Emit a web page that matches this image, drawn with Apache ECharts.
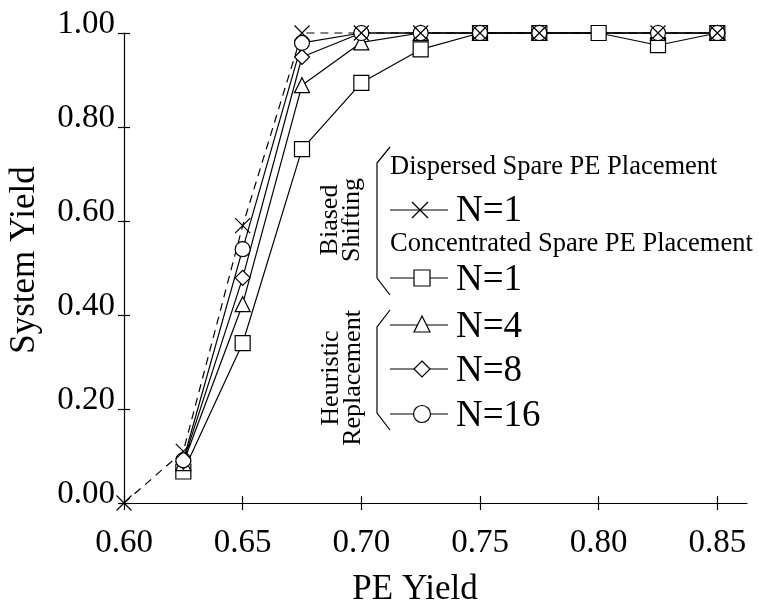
<!DOCTYPE html>
<html>
<head>
<meta charset="utf-8">
<script src="https://cdn.jsdelivr.net/npm/echarts@6/dist/echarts.min.js"></script>
<style>
  html, body { margin: 0; padding: 0; background: #fff; }
  #chart { width: 759px; height: 608px; }
</style>
</head>
<body>
<div id="chart"></div>
<script>
// PE yield sample points
const peYieldDispersed = [0.60, 0.625, 0.65, 0.675, 0.70, 0.725, 0.75, 0.775, 0.825, 0.85];
const peYieldConcentrated = [0.625, 0.65, 0.675, 0.70, 0.725, 0.75, 0.775, 0.80, 0.825, 0.85];
const peYieldHeuristic = [0.625, 0.65, 0.675, 0.70, 0.725, 0.75, 0.775, 0.825, 0.85];

// System yield per configuration
const biasedDispersedN1 = [0.00, 0.11, 0.59, 1.00, 1.00, 1.00, 1.00, 1.00, 1.00, 1.00];
const biasedConcentratedN1 = [0.067, 0.34, 0.753, 0.894, 0.965, 1.00, 1.00, 1.00, 0.974, 1.00];
const heuristicN4 = [0.085, 0.423, 0.889, 0.98, 1.00, 1.00, 1.00, 1.00, 1.00];
const heuristicN8 = [0.088, 0.479, 0.949, 1.00, 1.00, 1.00, 1.00, 1.00, 1.00];
const heuristicN16 = [0.091, 0.54, 0.979, 1.00, 1.00, 1.00, 1.00, 1.00, 1.00];

// Axis ticks
const xTicks = [0.60, 0.65, 0.70, 0.75, 0.80, 0.85];
const yTicks = [0.00, 0.20, 0.40, 0.60, 0.80, 1.00];

const FONT = '"Liberation Serif", "Times New Roman", serif';
const crossPath = 'path://M0,0L10,10M10,0L0,10';

function pairs(xs, ys) { return xs.map((x, i) => [x, ys[i]]); }

function lineSeries(name, xs, ys, symbol, size, dashed) {
  return {
    name: name,
    type: 'line',
    data: pairs(xs, ys),
    symbol: symbol,
    symbolSize: size,
    showAllSymbol: true,
    clip: false,
    animation: false,
    lineStyle: { color: '#000', width: 1.2, type: dashed ? [8, 6] : 'solid' },
    itemStyle: {
      color: symbol === crossPath ? 'rgba(0,0,0,0)' : '#fff',
      borderColor: '#000',
      borderWidth: 1.2
    },
    emphasis: { disabled: true }
  };
}

const chart = echarts.init(document.getElementById('chart'), null, { renderer: 'canvas' });

const axisCommonX = {
  type: 'value', min: 0.6, max: 0.8625, interval: 0.05,
  position: 'bottom', splitLine: { show: false }
};
const axisCommonY = {
  type: 'value', min: 0, max: 1, interval: 0.2,
  position: 'left', splitLine: { show: false }
};

// Legend artwork: group labels, braces and sample markers
const legendGraphics = [
  { type: 'text', x: 341, y: 220, rotation: Math.PI / 2,
    style: { text: 'Biased\nShifting', font: '26px ' + FONT, fill: '#000',
             align: 'center', verticalAlign: 'middle', lineHeight: 22 } },
  { type: 'text', x: 342, y: 378, rotation: Math.PI / 2,
    style: { text: 'Heuristic\nReplacement', font: '26px ' + FONT, fill: '#000',
             align: 'center', verticalAlign: 'middle', lineHeight: 22 } },
  { type: 'polyline', shape: { points: [[390, 147], [377, 163], [377, 278], [390, 295]] },
    style: { stroke: '#000', lineWidth: 1.2, fill: null } },
  { type: 'polyline', shape: { points: [[390, 310], [377, 327], [377, 413], [390, 430]] },
    style: { stroke: '#000', lineWidth: 1.2, fill: null } },

  { type: 'text', x: 390, y: 167,
    style: { text: 'Dispersed Spare PE Placement', font: '26.5px ' + FONT, fill: '#000',
             align: 'left', verticalAlign: 'middle' } },
  { type: 'text', x: 390, y: 244,
    style: { text: 'Concentrated Spare PE Placement', font: '26.5px ' + FONT, fill: '#000',
             align: 'left', verticalAlign: 'middle' } },

  // N=1 dispersed (cross)
  { type: 'line', shape: { x1: 390, y1: 210, x2: 448, y2: 210 }, style: { stroke: '#000', lineWidth: 1.2 } },
  { type: 'line', shape: { x1: 412, y1: 202, x2: 428, y2: 218 }, style: { stroke: '#000', lineWidth: 1.2 } },
  { type: 'line', shape: { x1: 428, y1: 202, x2: 412, y2: 218 }, style: { stroke: '#000', lineWidth: 1.2 } },
  // N=1 concentrated (square)
  { type: 'line', shape: { x1: 390, y1: 278, x2: 448, y2: 278 }, style: { stroke: '#000', lineWidth: 1.2 } },
  { type: 'rect', shape: { x: 414, y: 270, width: 16, height: 16 }, style: { fill: '#fff', stroke: '#000', lineWidth: 1.2 } },
  // N=4 (triangle)
  { type: 'line', shape: { x1: 390, y1: 325, x2: 448, y2: 325 }, style: { stroke: '#000', lineWidth: 1.2 } },
  { type: 'polygon', shape: { points: [[422, 316], [430, 332], [414, 332]] }, style: { fill: '#fff', stroke: '#000', lineWidth: 1.2 } },
  // N=8 (diamond)
  { type: 'line', shape: { x1: 390, y1: 369, x2: 448, y2: 369 }, style: { stroke: '#000', lineWidth: 1.2 } },
  { type: 'polygon', shape: { points: [[422, 361], [430, 369], [422, 377], [414, 369]] }, style: { fill: '#fff', stroke: '#000', lineWidth: 1.2 } },
  // N=16 (circle)
  { type: 'line', shape: { x1: 390, y1: 414, x2: 448, y2: 414 }, style: { stroke: '#000', lineWidth: 1.2 } },
  { type: 'circle', shape: { cx: 422, cy: 414, r: 8.5 }, style: { fill: '#fff', stroke: '#000', lineWidth: 1.2 } }
];

const nLabels = [['N=1', 211], ['N=1', 280], ['N=4', 327], ['N=8', 371], ['N=16', 416]];
nLabels.forEach(([t, y]) => {
  legendGraphics.push({ type: 'text', x: 456, y: y,
    style: { text: t, font: '37px ' + FONT, fill: '#000', align: 'left', verticalAlign: 'middle' } });
});

// Axis titles
legendGraphics.push({ type: 'text', x: 415, y: 590,
  style: { text: 'PE Yield', font: '35px ' + FONT, fill: '#000', align: 'center', verticalAlign: 'middle' } });
legendGraphics.push({ type: 'text', x: 25, y: 260, rotation: Math.PI / 2,
  style: { text: 'System Yield', font: '35px ' + FONT, fill: '#000', align: 'center', verticalAlign: 'middle' } });

chart.setOption({
  backgroundColor: '#fff',
  animation: false,
  grid: { left: 124, right: 12, top: 33, bottom: 105 },
  xAxis: [
    Object.assign({}, axisCommonX, {
      axisLine: { onZero: false, lineStyle: { color: '#000', width: 1.2 } },
      axisTick: { show: true, inside: false, length: 7, customValues: xTicks, lineStyle: { color: '#000', width: 1.2 } },
      axisLabel: { customValues: xTicks, margin: 24, color: '#000', fontFamily: FONT, fontSize: 33,
                   formatter: v => v.toFixed(2) }
    }),
    Object.assign({}, axisCommonX, {
      axisLine: { show: false, onZero: false },
      axisTick: { show: true, inside: true, length: 7, customValues: xTicks, lineStyle: { color: '#000', width: 1.2 } },
      axisLabel: { show: false }
    })
  ],
  yAxis: [
    Object.assign({}, axisCommonY, {
      axisLine: { show: true, onZero: false, lineStyle: { color: '#000', width: 1.2 } },
      axisTick: { show: true, inside: false, length: 6, customValues: yTicks, lineStyle: { color: '#000', width: 1.2 } },
      axisLabel: { customValues: yTicks, margin: 9, color: '#000', fontFamily: FONT, fontSize: 33,
                   verticalAlign: 'bottom', lineHeight: 18,
                   formatter: v => v.toFixed(2) }
    }),
    Object.assign({}, axisCommonY, {
      axisLine: { show: false, onZero: false },
      axisTick: { show: true, inside: true, length: 6, customValues: yTicks, lineStyle: { color: '#000', width: 1.2 } },
      axisLabel: { show: false }
    })
  ],
  series: [
    lineSeries('Concentrated N=1', peYieldConcentrated, biasedConcentratedN1, 'rect', 15, false),
    lineSeries('Heuristic N=4', peYieldHeuristic, heuristicN4, 'triangle', 15, false),
    lineSeries('Heuristic N=8', peYieldHeuristic, heuristicN8, 'diamond', 15, false),
    lineSeries('Heuristic N=16', peYieldHeuristic, heuristicN16, 'circle', 15, false),
    lineSeries('Dispersed N=1', peYieldDispersed, biasedDispersedN1, crossPath, 15, true)
  ],
  graphic: legendGraphics
});
</script>
</body>
</html>
